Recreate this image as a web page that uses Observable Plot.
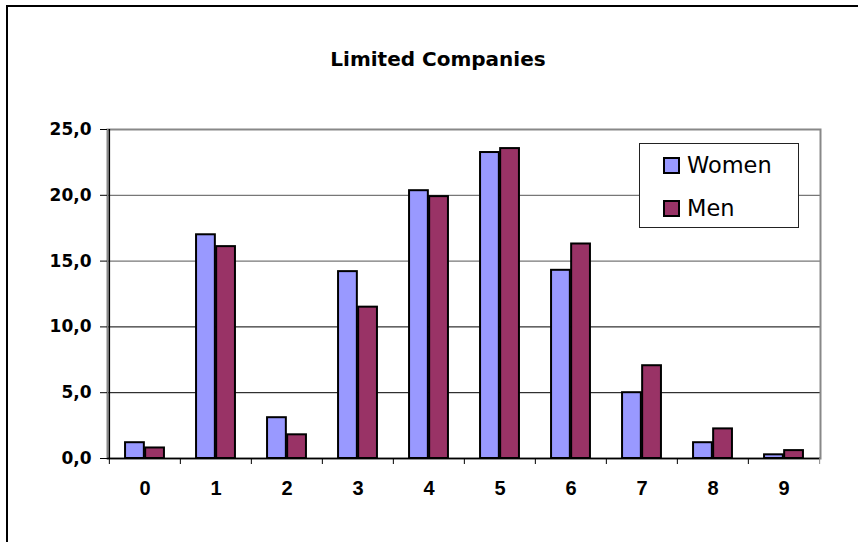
<!DOCTYPE html>
<html>
<head>
<meta charset="utf-8">
<script src="https://cdn.jsdelivr.net/npm/d3@7"></script>
<script src="https://cdn.jsdelivr.net/npm/@observablehq/plot@0.6"></script>
<style>
html,body{margin:0;padding:0;background:#fff;}
#wrap{position:relative;width:858px;height:542px;overflow:hidden;background:#fff;}
#wrap svg{position:absolute;left:0;top:0;}
#frame{position:absolute;left:6px;top:5px;width:900px;height:600px;border-left:2px solid #000;border-top:2px solid #000;}
#title{position:absolute;left:0;width:876px;top:49px;text-align:center;font:bold 20px "DejaVu Sans";line-height:20px;color:#000;}
#legend{position:absolute;left:639px;top:143px;width:158px;height:83px;border:1px solid #222;background:#fff;}
.sw{position:absolute;left:23px;width:17px;height:17px;box-sizing:border-box;border:2px solid #000;}
.lt{position:absolute;left:47px;font:22.5px "DejaVu Sans";line-height:22.5px;color:#000;white-space:nowrap;}
</style>
</head>
<body>
<div id="wrap">
  <div id="frame"></div>
</div>
<script>
// ---- data ----
const title = "Limited Companies";
const categories = ["0","1","2","3","4","5","6","7","8","9"];
const seriesNames = ["Women","Men"];
const women = [1.2, 17.0, 3.1, 14.2, 20.35, 23.25, 14.3, 5.0, 1.2, 0.28];
const men   = [0.8, 16.1, 1.8, 11.5, 19.9, 23.55, 16.3, 7.05, 2.25, 0.6];
const yTicks = [0, 5, 10, 15, 20, 25];
const colors = {Women: "#9999FF", Men: "#993366"};

const womenRows = categories.map((c, i) => ({cat: c, value: women[i], series: "Women"}));
const menRows = categories.map((c, i) => ({cat: c, value: men[i], series: "Men"}));

const W = 858, H = 542, mL = 107, mR = 38, mT = 129, mB = 84;
const band = (W - mL - mR) / categories.length;
const half = band / 2;
const barW = 20.6;
const outer = half - barW;

const fmt = d => d.toFixed(1).replace(".", ",");

const chart = Plot.plot({
  width: W, height: H,
  marginLeft: mL, marginRight: mR, marginTop: mT, marginBottom: mB,
  style: {background: "transparent", fontFamily: "'Liberation Sans', Arial, sans-serif", color: "#000", overflow: "visible"},
  x: {domain: categories, padding: 0, axis: null, label: null},
  y: {domain: [0, 25], axis: null, label: null},
  marks: [
    Plot.ruleY([5, 10], {stroke: "#000", strokeWidth: 1}),
    Plot.ruleY([15, 20], {stroke: "#777", strokeWidth: 1.3}),
    Plot.frame({stroke: "#888", strokeWidth: 2}),
    Plot.barY(womenRows, {x: "cat", y: "value", fill: colors.Women, stroke: "#000", strokeWidth: 2,
      insetLeft: outer + 1, insetRight: half + 0.5}),
    Plot.barY(menRows, {x: "cat", y: "value", fill: colors.Men, stroke: "#000", strokeWidth: 2,
      insetLeft: half + 0.5, insetRight: outer + 1}),
    Plot.ruleY([0], {stroke: "#000", strokeWidth: 1.5}),
    Plot.ruleX([categories[0]], {dx: -half, stroke: "#000", strokeWidth: 1.5}),
    Plot.axisX(categories, {tickSize: 6, dx: -half, tickFormat: () => "", label: null, stroke: "#000"}),
    Plot.axisX([categories[categories.length - 1]], {tickSize: 6, dx: half, tickFormat: () => "", label: null, stroke: "#888"}),
    Plot.axisX({tickSize: 0, tickPadding: 22, fontSize: 20, fontWeight: "bold", label: null,
      fontFamily: "'Liberation Sans', Arial, sans-serif", fill: "#000"}),
    Plot.axisY(yTicks, {tickSize: 7, tickPadding: 9, tickFormat: fmt, fontSize: 17, fontWeight: "bold", label: null,
      fontFamily: "'DejaVu Sans', sans-serif", stroke: "#000", fill: "#000"})
  ]
});

const wrap = document.getElementById("wrap");
wrap.insertBefore(chart, wrap.firstChild);

const t = document.createElement("div");
t.id = "title"; t.textContent = title;
wrap.appendChild(t);

const lg = document.createElement("div");
lg.id = "legend";
seriesNames.forEach((s, i) => {
  const sw = document.createElement("div");
  sw.className = "sw"; sw.style.background = colors[s]; sw.style.top = (13 + i * 43) + "px";
  const lt = document.createElement("div");
  lt.className = "lt"; lt.textContent = s; lt.style.top = (10 + i * 43) + "px";
  lg.appendChild(sw); lg.appendChild(lt);
});
wrap.appendChild(lg);
</script>
</body>
</html>
